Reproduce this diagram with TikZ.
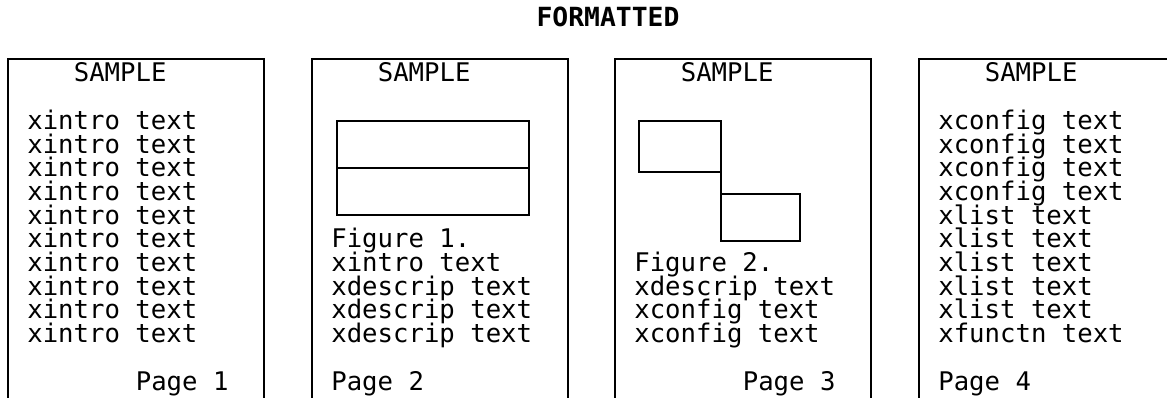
\documentclass[tikz,border=0pt]{standalone}
\usepackage{fontspec}
\setmonofont{DejaVu Sans Mono}
\usetikzlibrary{positioning}

\begin{document}
\begin{tikzpicture}[
    x = 0.02cm, y = 0.02cm,
    font      = \ttfamily\fontsize{14.6}{16}\selectfont,
    pg/.style = {line width=1.5pt},
    fig/.style = {draw, line width=1.5pt},
    txt/.style = {anchor=base west, inner sep=0pt},
  ]
  \useasboundingbox (0,0) rectangle (1167,398);
  \clip (0,0) rectangle (1167,398);

  \node[font=\ttfamily\bfseries\fontsize{15}{16}\selectfont,
        anchor=base, inner sep=0pt] (title) at (608,371) {FORMATTED};

  % page frames, open at the bottom
  \foreach \i/\L in {1/8, 2/312, 3/615, 4/919} {
    \draw[pg] (\L,0) |- (\L+256,339) -- (\L+256,0);
    \node[txt] (head\i) at (\L+65.5,316) {SAMPLE};
  }

  % page 1
  \foreach \t [count=\k from 2] in {xintro text, xintro text, xintro text,
      xintro text, xintro text, xintro text, xintro text, xintro text,
      xintro text, xintro text}
    \node[txt] (a\k) at (27,316-23.7*\k) {\t};
  \node[txt] (page1) at (135.5,7.9) {Page 1};

  % page 2
  \draw[fig] (337,277) rectangle (529,183);
  \draw[fig] (337,230) -- (529,230);
  \foreach \t [count=\k from 7] in {Figure 1., xintro text, xdescrip text,
      xdescrip text, xdescrip text}
    \node[txt] (b\k) at (331,316-23.7*\k) {\t};
  \node[txt] (page2) at (331,7.9) {Page 2};

  % page 3
  \draw[fig] (639,277) rectangle (721,226);
  \draw[fig] (721,226) -- (721,204);
  \draw[fig] (721,204) rectangle (800,157);
  \foreach \t [count=\k from 8] in {Figure 2., xdescrip text, xconfig text,
      xconfig text}
    \node[txt] (c\k) at (634,316-23.7*\k) {\t};
  \node[txt] (page3) at (742.5,7.9) {Page 3};

  % page 4
  \foreach \t [count=\k from 2] in {xconfig text, xconfig text, xconfig text,
      xconfig text, xlist text, xlist text, xlist text, xlist text,
      xlist text, xfunctn text}
    \node[txt] (d\k) at (938,316-23.7*\k) {\t};
  \node[txt] (page4) at (938,7.9) {Page 4};
\end{tikzpicture}
\end{document}
